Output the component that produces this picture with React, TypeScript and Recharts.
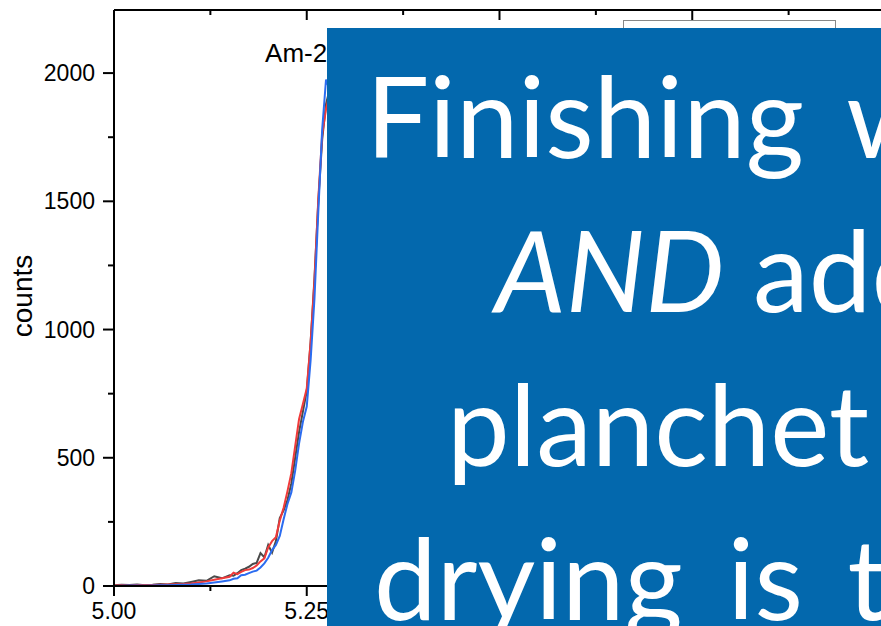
import React from 'react';
import { LineChart, Line, XAxis, YAxis, ReferenceDot } from 'recharts';

// energy (MeV) per channel
const energies = [
	5.0, 5.01, 5.02, 5.03, 5.04, 5.05, 5.06, 5.07, 5.08, 5.09, 5.1, 5.11, 5.12, 5.13, 5.14, 5.15,
	5.155, 5.16, 5.165, 5.17, 5.175, 5.18, 5.185, 5.19, 5.195, 5.2, 5.205, 5.21, 5.215, 5.22, 5.225,
	5.23, 5.235, 5.24, 5.245, 5.25, 5.255, 5.26, 5.265, 5.27, 5.275, 5.28, 5.285, 5.29, 5.295, 5.3,
	5.32, 5.34, 5.36, 5.4, 5.45, 5.5, 5.6, 5.7, 5.8, 6.0,
];
const seriesA = [
	3, 5, 4, 6, 3, 5, 8, 6, 12, 10, 16, 22, 20, 38, 30, 42,
	40, 50, 62, 68, 75, 86, 90, 128, 112, 160, 130, 175, 265, 295, 335,
	400, 500, 600, 680, 760, 950, 1200, 1500, 1740, 1880, 1940, 1900, 1800, 1650, 1400,
	700, 250, 80, 20, 6, 3, 1, 0, 0, 0,
];
const seriesB = [
	2, 3, 2, 4, 3, 4, 5, 6, 7, 8, 10, 14, 18, 24, 30, 36,
	52, 46, 55, 62, 64, 70, 80, 96, 108, 150, 175, 190, 255, 305, 370,
	440, 545, 650, 710, 770, 950, 1190, 1510, 1760, 1860, 1920, 1880, 1780, 1620, 1380,
	680, 240, 75, 18, 5, 2, 1, 0, 0, 0,
];
const seriesC = [
	0, 1, 2, 2, 1, 2, 3, 3, 4, 5, 6, 8, 10, 14, 18, 22,
	28, 30, 42, 44, 50, 56, 60, 72, 88, 110, 140, 160, 195, 260, 320,
	365, 450, 555, 640, 700, 880, 1120, 1460, 1780, 1975, 1930, 1900, 1820, 1660, 1420,
	720, 260, 85, 22, 6, 3, 1, 0, 0, 0,
];
const xTicks = [5.0, 5.125, 5.25, 5.375, 5.5, 5.625, 5.75, 5.875, 6.0];
const yTicks = [0, 250, 500, 750, 1000, 1250, 1500, 1750, 2000];
const overlayLines = ['Finishing with', 'AND adding', 'planchet', 'drying is the'];

const data = energies.map((e, i) => ({ e, a: seriesA[i], b: seriesB[i], c: seriesC[i] }));

const FONT = '"Liberation Sans", Arial, sans-serif';

const isMajorX = (v: number) => Math.abs(v * 4 - Math.round(v * 4)) < 1e-6;

const BottomTick = (p: any) => {
	const major = isMajorX(p.payload.value);
	return (
		<g>
			<line x1={p.x} x2={p.x} y1={p.y} y2={p.y + (major ? 10 : 5)} stroke="#000" strokeWidth={2} />
			{major && (
				<text x={p.x} y={p.y + 33} textAnchor="middle" fontSize={23} fontFamily={FONT} fill="#000">
					{p.payload.value.toFixed(2)}
				</text>
			)}
		</g>
	);
};

const TopTick = (p: any) => {
	const major = isMajorX(p.payload.value);
	return <line x1={p.x} x2={p.x} y1={p.y} y2={p.y + (major ? 10 : 5)} stroke="#000" strokeWidth={2} />;
};

const LeftTick = (p: any) => {
	const major = p.payload.value % 500 === 0;
	return (
		<g>
			<line x1={p.x - (major ? 11 : 6)} x2={p.x} y1={p.y} y2={p.y} stroke="#000" strokeWidth={2} />
			{major && (
				<text x={p.x - 19} y={p.y + 8} textAnchor="end" fontSize={23} fontFamily={FONT} fill="#000">
					{p.payload.value}
				</text>
			)}
		</g>
	);
};

export default function App() {
	return (
		<div style={{ position: 'absolute', left: 0, top: 0, width: 881, height: 626, overflow: 'hidden', background: '#fff' }}>
			<LineChart width={890} height={626} data={data} margin={{ top: 8, right: 5, bottom: 0, left: 0 }}>
				<XAxis
					dataKey="e"
					type="number"
					domain={[5, 6]}
					ticks={xTicks}
					interval={0}
					height={40}
					tickSize={0}
					tickMargin={0}
					tick={(p: any) => <BottomTick {...p} />}
					axisLine={{ stroke: '#000', strokeWidth: 2 }}
					tickLine={false}
				/>
				<XAxis
					xAxisId="top"
					orientation="top"
					dataKey="e"
					type="number"
					domain={[5, 6]}
					ticks={xTicks}
					interval={0}
					height={2}
					tickSize={0}
					tickMargin={0}
					tick={(p: any) => <TopTick {...p} />}
					axisLine={{ stroke: '#000', strokeWidth: 2 }}
					tickLine={false}
				/>
				<YAxis
					type="number"
					domain={[0, 2246]}
					ticks={yTicks}
					interval={0}
					width={114}
					tickSize={0}
					tickMargin={0}
					allowDataOverflow
					tick={(p: any) => <LeftTick {...p} />}
					axisLine={{ stroke: '#000', strokeWidth: 2 }}
					tickLine={false}
					label={() => (
						<text x={22} y={296} transform="rotate(-90 22 296)" textAnchor="middle" dominantBaseline="central" fontSize={28} fontFamily={FONT} fill="#000">
							counts
						</text>
					)}
				/>
				<Line dataKey="a" stroke="#4a4a4a" strokeWidth={2} dot={false} isAnimationActive={false} />
				<Line dataKey="b" stroke="#f03a3a" strokeWidth={2} dot={false} isAnimationActive={false} />
				<Line dataKey="c" stroke="#2b6cf0" strokeWidth={2} dot={false} isAnimationActive={false} />
				<ReferenceDot
					x={5.196}
					y={2043}
					r={0}
					fill="none"
					stroke="none"
					label={(p: any) => (
						<text x={p.viewBox.x} y={p.viewBox.y} fontSize={26} fontFamily={FONT} fill="#000">
							Am-241
						</text>
					)}
				/>
			</LineChart>
			<div style={{ position: 'absolute', left: 623, top: 20, width: 213, height: 120, border: '1px solid #888', background: '#fff', boxSizing: 'border-box' }} />
			<div style={{ position: 'absolute', left: 327, top: 28, width: 700, height: 700, background: '#0368ad', overflow: 'hidden' }}>
				<svg width={700} height={700}>
					{overlayLines.map((t, i) => {
						const xs = [39, 168, 120, 47];
						return (
							<text key={t} x={xs[i]} y={130 + i * 154} fontSize={112} fontFamily="Lato, sans-serif" fill="#fff" style={{ wordSpacing: i === 1 ? 0 : 16 }}>
								{i === 1 ? (
									<>
										<tspan fontStyle="italic">AND</tspan> adding
									</>
								) : (
									t
								)}
							</text>
						);
					})}
				</svg>
			</div>
		</div>
	);
}
